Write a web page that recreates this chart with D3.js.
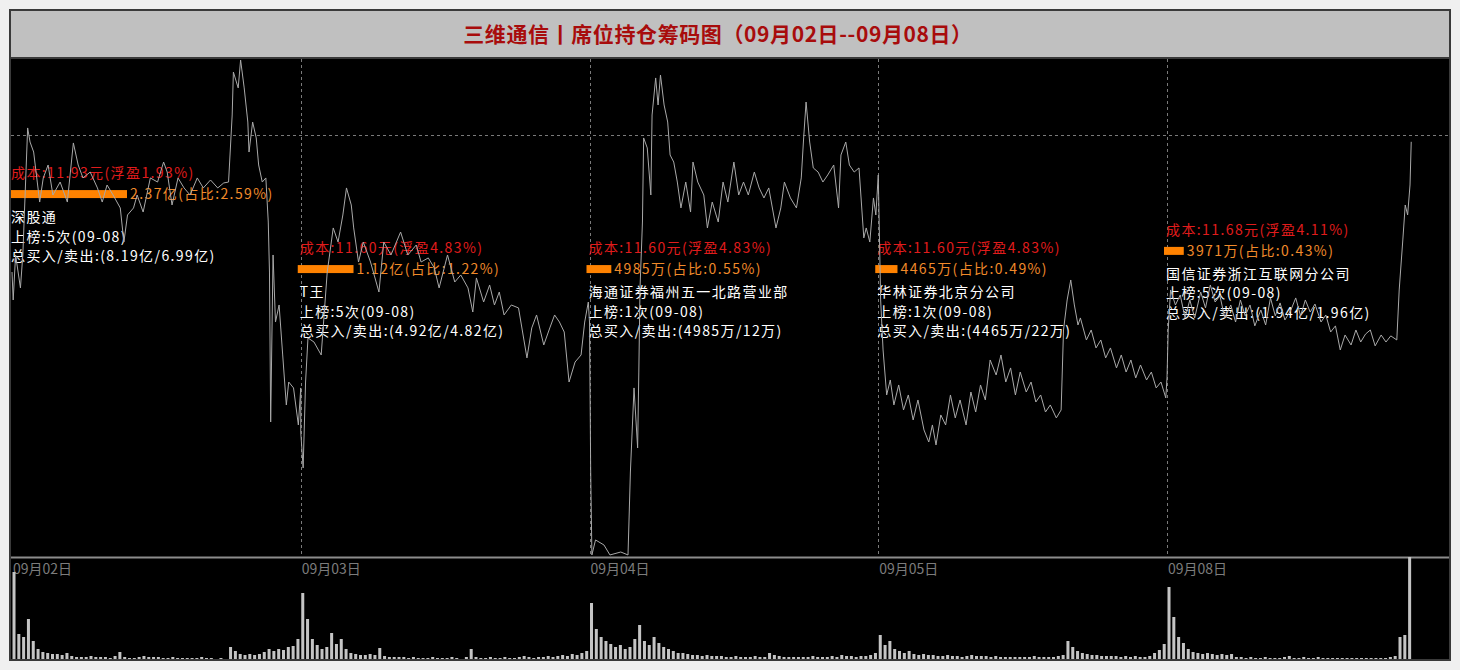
<!DOCTYPE html>
<html><head><meta charset="utf-8">
<script src="https://cdn.jsdelivr.net/npm/d3@7"></script>
<style>html,body{margin:0;padding:0;background:#f0f0f0;}svg{display:block;}</style>
</head><body><svg id="c" width="1460" height="670"></svg>
<script>
// ---------------- DATA ----------------
const titleText = "三维通信丨席位持仓筹码图（09月02日--09月08日）";
const dates = ["09月02日", "09月03日", "09月04日", "09月05日", "09月08日"];
const minutesPerDay = 240;
const priceMin = 10.333, priceMax = 12.520;
const refPrice = 12.19;   // dashed reference line

// intraday price, [minute, price]
const day1 = [[0,11.587],[1,11.464],[3,11.662],[7,11.517],[9,11.662],[13,12.221],[15,12.159],[18,12.115],[21,11.983],[23,11.895],[26,12.001],[30,12.058],[34,11.926],[40,11.983],[46,11.895],[51,12.155],[55,12.058],[59,12.001],[65,12.027],[71,11.957],[75,11.895],[79,11.970],[84,11.926],[90,11.869],[93,11.719],[96,11.838],[101,11.869],[104,11.926],[109,11.851],[115,12.001],[121,11.983],[126,12.071],[129,12.027],[133,11.882],[138,12.001],[143,11.957],[148,11.926],[154,12.001],[159,11.957],[165,11.992],[171,11.957],[176,11.979],[180,11.983],[183,12.278],[184,12.467],[188,12.397],[190,12.520],[193,12.397],[196,12.247],[197,12.115],[200,12.247],[203,12.177],[205,12.058],[208,11.983],[211,12.001],[213,11.807],[214,11.587],[215,10.927],[217,11.662],[219,11.367],[222,11.442],[225,11.222],[228,11.002],[230,11.103],[234,11.077],[238,10.914],[240,11.077]];
const day2 = [[0,10.883],[2,10.725],[4,11.103],[6,11.297],[11,11.279],[17,11.222],[22,11.587],[27,11.781],[31,11.719],[35,11.838],[38,11.957],[42,11.882],[44,11.781],[48,11.631],[52,11.719],[58,11.631],[65,11.499],[69,11.719],[75,11.662],[83,11.763],[89,11.662],[96,11.706],[100,11.631],[106,11.649],[111,11.605],[115,11.517],[122,11.662],[128,11.543],[133,11.574],[139,11.517],[143,11.411],[146,11.561],[152,11.455],[157,11.530],[161,11.442],[165,11.499],[169,11.398],[175,11.442],[181,11.429],[188,11.209],[192,11.341],[196,11.398],[202,11.266],[207,11.341],[211,11.398],[215,11.367],[219,11.323],[223,11.103],[228,11.191],[233,11.222],[236,11.367],[239,11.455],[240,11.367]];
const day3 = [[1,10.707],[2,10.342],[5,10.408],[12,10.386],[17,10.342],[26,10.355],[32,10.342],[34,10.707],[37,11.077],[40,10.813],[41,11.147],[42,11.517],[44,11.807],[45,12.177],[48,12.133],[51,11.926],[52,12.278],[55,12.441],[57,12.322],[59,12.454],[62,12.322],[65,12.247],[67,12.102],[70,12.071],[73,11.983],[76,11.869],[80,11.983],[84,11.851],[86,12.071],[90,11.983],[95,11.926],[98,11.781],[102,11.895],[107,11.807],[111,11.983],[115,11.895],[120,12.071],[124,11.926],[128,11.983],[132,11.926],[137,12.027],[141,11.957],[145,11.913],[149,11.957],[155,11.781],[159,11.869],[162,11.983],[167,11.913],[172,11.869],[176,12.001],[178,12.177],[180,12.335],[183,12.159],[186,12.045],[190,12.027],[194,11.983],[198,12.014],[203,12.058],[207,11.869],[209,12.102],[213,12.159],[216,12.058],[220,12.027],[224,12.045],[228,11.737],[230,11.781],[233,11.719],[236,11.913],[238,11.838],[240,12.014]];
const day4 = [[2,11.464],[4,11.244],[7,11.046],[10,11.112],[13,11.002],[17,11.090],[21,10.980],[25,11.046],[29,10.936],[33,11.024],[38,10.892],[42,10.839],[45,10.914],[48,10.826],[52,10.958],[56,10.914],[60,11.046],[64,10.945],[68,11.024],[73,10.914],[77,11.059],[81,10.971],[85,11.090],[89,11.024],[93,11.200],[98,11.134],[102,11.222],[106,11.103],[110,11.165],[114,11.046],[118,11.147],[123,11.059],[127,11.103],[131,11.015],[135,11.046],[139,10.971],[143,11.002],[148,10.945],[152,10.980],[154,11.332],[157,11.464],[160,11.552],[163,11.442],[166,11.354],[168,11.385],[173,11.288],[177,11.332],[181,11.253],[185,11.288],[189,11.209],[193,11.253],[198,11.165],[202,11.222],[206,11.147],[210,11.200],[214,11.121],[218,11.178],[223,11.112],[227,11.147],[231,11.077],[235,11.103],[239,11.033],[240,11.121]];
const day5 = [[1,11.332],[3,11.508],[7,11.442],[11,11.486],[15,11.385],[19,11.464],[23,11.385],[28,11.499],[32,11.429],[36,11.530],[40,11.455],[44,11.482],[48,11.385],[53,11.442],[57,11.367],[61,11.464],[65,11.394],[69,11.442],[73,11.350],[78,11.420],[82,11.354],[86,11.473],[90,11.394],[94,11.451],[98,11.376],[103,11.420],[107,11.473],[111,11.394],[115,11.464],[119,11.411],[123,11.446],[128,11.367],[132,11.398],[136,11.323],[140,11.350],[144,11.244],[148,11.310],[153,11.266],[157,11.332],[161,11.279],[165,11.314],[169,11.332],[173,11.262],[178,11.310],[182,11.279],[186,11.306],[191,11.288],[193,11.508],[196,11.728],[198,11.882],[200,11.838],[202,11.970],[203,12.16]];
const priceDays = [day1, day2, day3, day4, day5];

// volume, one value per 4-minute bin
const volBin = 4;
const vol1 = [87,25,22,40,18,10,7,6,5,5,4,6,3,2,2,2,3,2,2,2,1,3,7,2,1,1,2,3,2,2,2,1,1,2,1,1,1,1,1,2,1,1,0,1,0,12,8,5,4,5,4,5,7,10,8,10,9,12,13,20];
const vol2 = [66,40,20,14,10,12,26,15,20,10,6,5,4,4,5,4,11,3,2,2,2,2,1,2,1,1,1,2,1,1,1,2,1,0,2,10,2,1,1,2,1,1,2,1,1,2,3,2,1,2,2,3,2,3,4,3,5,4,6,8];
const vol3 = [56,30,22,18,15,12,14,10,12,20,34,18,14,22,16,12,10,8,6,6,5,4,4,3,4,3,3,3,2,2,3,2,2,2,3,2,2,6,4,3,2,2,2,2,2,2,3,2,2,2,3,2,4,3,3,2,3,3,4,6];
const vol4 = [24,14,18,10,8,6,8,5,4,5,4,4,3,3,4,3,3,2,3,4,3,3,3,2,3,2,2,2,2,2,2,2,3,2,2,2,2,3,4,18,12,8,6,5,4,4,3,3,3,3,2,3,2,3,2,2,3,6,9,15];
const vol5 = [72,42,22,16,10,7,6,5,6,5,4,5,4,5,2,2,1,2,1,1,2,1,1,1,2,3,1,1,2,1,1,2,1,1,1,1,1,1,1,1,1,1,1,1,1,1,2,3,22,24,102];
const volDays = [vol1, vol2, vol3, vol4, vol5];
const volMax = 100;

// seat annotations
const seats = ["深股通", "T王", "海通证券福州五一北路营业部", "华林证券北京分公司", "国信证券浙江互联网分公司"];
const costs = [11.93, 11.60, 11.60, 11.60, 11.68];
const profits = ["1.93%", "4.83%", "4.83%", "4.83%", "4.11%"];
const holdYi = [2.37, 1.12, 0.4985, 0.4465, 0.3971];
const holdLabels = ["2.37亿", "1.12亿", "4985万", "4465万", "3971万"];
const shareRatios = ["2.59%", "1.22%", "0.55%", "0.49%", "0.43%"];
const listTimes = [5, 5, 1, 1, 5];
const listDate = "09-08";
const buyLabels = ["8.19亿", "4.92亿", "4985万", "4465万", "1.94亿"];
const sellLabels = ["6.99亿", "4.82亿", "12万", "22万", "1.96亿"];

// ---------------- DRAW ----------------
const W = 1460, H = 670;
const frame = {l: 10, t: 10, r: 1450, b: 660};
const plot = {l: 11, r: 1449, top: 59, priceBottom: 557, volBottom: 659};
const font = "'Noto Sans CJK SC','Noto Sans',sans-serif";
const annSize = 14, annSpacing = 1.4;

const svg = d3.select("#c");
svg.append("rect").attr("width", W).attr("height", H).attr("fill", "#f0f0f0");
svg.append("rect").attr("x", frame.l).attr("y", frame.t).attr("width", frame.r - frame.l).attr("height", frame.b - frame.t)
  .attr("fill", "#000").attr("stroke", "#3a3a3a").attr("stroke-width", 2);
svg.append("rect").attr("x", frame.l + 1).attr("y", frame.t + 1).attr("width", frame.r - frame.l - 2).attr("height", 47)
  .attr("fill", "#c0c0c0");
svg.append("line").attr("x1", frame.l).attr("x2", frame.r).attr("y1", 58).attr("y2", 58).attr("stroke", "#3a3a3a").attr("stroke-width", 2);
svg.append("text").attr("x", 718).attr("y", 33).attr("text-anchor", "middle").attr("dominant-baseline", "central")
  .attr("font-family", font).attr("font-size", 21).attr("font-weight", "bold").attr("letter-spacing", 0.6)
  .attr("fill", "#a80c0c").text(titleText);

const x = d3.scaleLinear().domain([0, 5 * minutesPerDay]).range([12, 12 + 5 * 288.75]);
const y = d3.scaleLinear().domain([priceMin, priceMax]).range([plot.priceBottom, plot.top + 1]);
const yv = d3.scaleLinear().domain([0, volMax]).range([plot.volBottom, plot.volBottom - volMax]);
const barW = d3.scaleLinear().domain([0, holdYi[0]]).range([0, 118]);

const defs = svg.append("defs");
defs.append("clipPath").attr("id", "cp").append("rect").attr("x", plot.l).attr("y", plot.top)
  .attr("width", plot.r - plot.l).attr("height", plot.priceBottom - plot.top);
defs.append("clipPath").attr("id", "cv").append("rect").attr("x", plot.l).attr("y", plot.priceBottom)
  .attr("width", plot.r - plot.l).attr("height", plot.volBottom - plot.priceBottom);

const gp = svg.append("g").attr("clip-path", "url(#cp)");
// day separators
gp.selectAll("line.vd").data(d3.range(1, 5)).join("line")
  .attr("x1", d => Math.round(x(d * minutesPerDay)) + 0.5).attr("x2", d => Math.round(x(d * minutesPerDay)) + 0.5)
  .attr("y1", plot.top).attr("y2", plot.priceBottom)
  .attr("stroke", "#7a7a7a").attr("stroke-dasharray", "3,3");
// reference price line
gp.append("line").attr("x1", plot.l).attr("x2", plot.r)
  .attr("y1", Math.round(y(refPrice)) + 0.5).attr("y2", Math.round(y(refPrice)) + 0.5)
  .attr("stroke", "#7a7a7a").attr("stroke-dasharray", "3,3");

// annotations
const ann = gp.selectAll("g.ann").data(seats).join("g");
ann.each(function(name, i) {
  const g = d3.select(this);
  const x0 = x(i * minutesPerDay);
  const yc = y(costs[i]);
  const t = (tx, ty, fill, str) => g.append("text").attr("x", tx).attr("y", ty).attr("dominant-baseline", "central")
    .attr("font-family", font).attr("font-size", annSize).attr("letter-spacing", annSpacing).attr("fill", fill).text(str);
  t(x0 - 1, yc - 22, "#e01c1c", `成本:${costs[i].toFixed(2)}元(浮盈${profits[i]})`);
  g.append("rect").attr("x", x0 - 3).attr("y", yc - 4).attr("width", barW(holdYi[i])).attr("height", 8).attr("fill", "#ff8200");
  t(x0 - 3 + barW(holdYi[i]) + 3, yc - 1, "#f08a2a", `${holdLabels[i]}(占比:${shareRatios[i]})`);
  const lines = [name, `上榜:${listTimes[i]}次(${listDate})`, `总买入/卖出:(${buyLabels[i]}/${sellLabels[i]})`];
  lines.forEach((s, k) => t(x0 - 1, yc + 22 + k * 19.5, "#ffffff", s));
});

// price line
const pts = [];
priceDays.forEach((arr, d) => arr.forEach(([m, p]) => pts.push([d * minutesPerDay + m, p])));
gp.append("path").datum(pts)
  .attr("d", d3.line().x(d => x(d[0])).y(d => y(d[1])))
  .attr("fill", "none").attr("stroke", "#a9a9a9").attr("stroke-width", 1);

// separator between price and volume
svg.append("line").attr("x1", plot.l).attr("x2", plot.r).attr("y1", plot.priceBottom + 0.5).attr("y2", plot.priceBottom + 0.5)
  .attr("stroke", "#8c8c8c").attr("stroke-width", 2);

// date labels
svg.selectAll("text.dt").data(dates).join("text")
  .attr("x", (d, i) => x(i * minutesPerDay) + 1).attr("y", 568).attr("dominant-baseline", "central")
  .attr("font-family", font).attr("font-size", 14).attr("fill", "#7c7c7c").text(d => d);

// volume bars
const gv = svg.append("g").attr("clip-path", "url(#cv)");
const bins = [];
volDays.forEach((arr, d) => arr.forEach((v, i) => bins.push({t: d * minutesPerDay + i * volBin, v})));
const bw = x(volBin) - x(0);
gv.selectAll("rect").data(bins).join("rect")
  .attr("x", d => x(d.t) + 0.5).attr("width", bw - 1.8)
  .attr("y", d => yv(d.v)).attr("height", d => yv(0) - yv(d.v))
  .attr("fill", "#c4c4c4");
</script></body></html>
